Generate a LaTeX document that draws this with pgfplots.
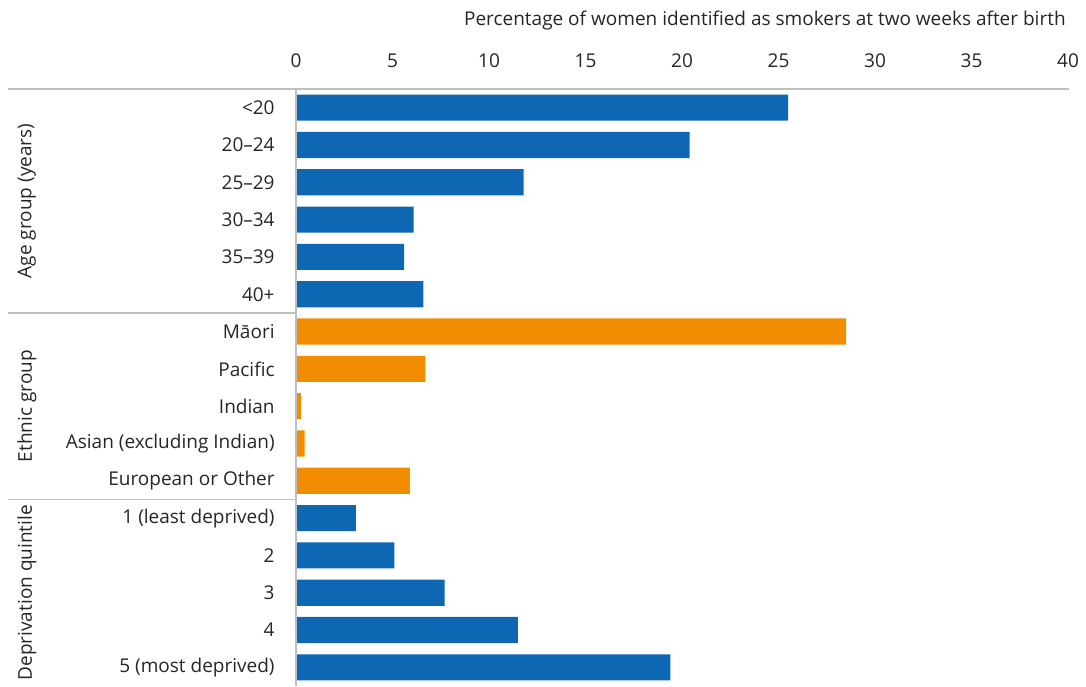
\documentclass[border=0pt]{standalone}
\usepackage{fontspec}
\setmainfont{Open Sans}
\usepackage{pgfplots}
\pgfplotsset{compat=1.18}
\definecolor{barblue}{HTML}{0D67B3}
\definecolor{barorange}{HTML}{F28C00}
\definecolor{linegray}{HTML}{BFBFBF}
\begin{document}
\fontsize{9.5}{11}\selectfont
\begin{tikzpicture}
\useasboundingbox (0pt,0pt) rectangle (543pt,343pt);
\begin{axis}[
  at={(148pt,0pt)}, anchor=south west,
  scale only axis, width=386pt, height=298.5pt,
  xbar, bar width=0.7, bar shift=0pt,
  xmin=0, xmax=40, ymin=-0.5, ymax=15.5, y dir=reverse,
  axis line style={draw=none},
  major tick length=0pt,
  xticklabel pos=upper,
  xtick={0,5,...,40},
  xticklabel style={anchor=base, yshift=11pt, text=black!85},
  ytick={0,...,15},
  yticklabels={{<20},{20–24},{25–29},{30–34},{35–39},{40+},{Māori},{Pacific},{Indian},{Asian (excluding Indian)},{European or Other},{1 (least deprived)},{2},{3},{4},{5 (most deprived)}},
  yticklabel style={anchor=east, inner sep=0pt, xshift=-10.5pt, text=black!85},
  /pgf/number format/assume math mode=true,
  clip=false,
]
\addplot[fill=barblue, draw=none] coordinates {
 (25.5,0) (20.4,1) (11.8,2) (6.1,3) (5.6,4) (6.6,5)
 (3.1,11) (5.1,12) (7.7,13) (11.5,14) (19.4,15)};
\addplot[fill=barorange, draw=none] coordinates {
 (28.5,6) (6.7,7) (0.25,8) (0.45,9) (5.9,10)};
\draw[linegray, line width=0.9pt] (axis cs:-14.92,-0.5) -- (axis cs:40.05,-0.5);
\draw[linegray, line width=0.9pt] (axis cs:-14.92,5.5) -- (axis cs:0,5.5);
\draw[linegray, line width=0.9pt] (axis cs:-14.92,10.5) -- (axis cs:0,10.5);
\draw[linegray, line width=0.9pt] (axis cs:0,-0.5) -- (axis cs:0,15.5);
\node[rotate=90, text=black!85] at (axis cs:-13.94,2.5) {Age group (years)};
\node[rotate=90, text=black!85] at (axis cs:-13.94,8) {Ethnic group};
\node[rotate=90, text=black!85] at (axis cs:-13.94,13) {Deprivation quintile};
\node[anchor=base east, inner sep=0pt, yshift=32pt, text=black!85] at (axis cs:39.9,-0.5) {Percentage of women identified as smokers at two weeks after birth};
\end{axis}
\end{tikzpicture}
\end{document}
